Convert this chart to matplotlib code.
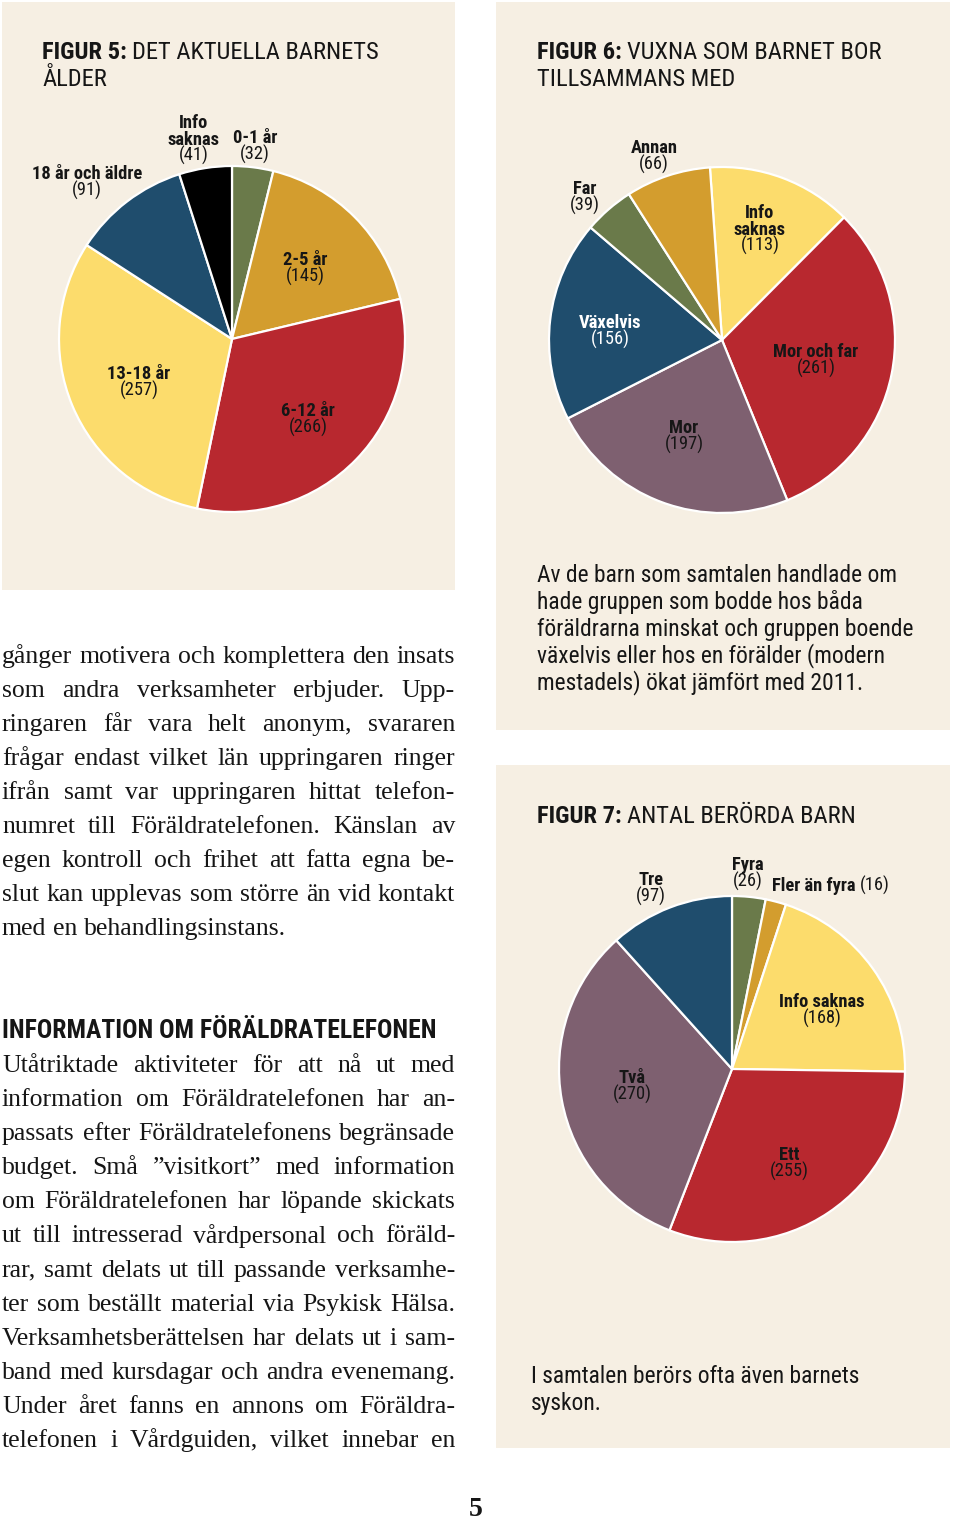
import matplotlib
matplotlib.use('Agg')
import matplotlib.pyplot as plt
import matplotlib.font_manager as fm
from matplotlib.patches import Rectangle

W, H = 960, 1520

# ---- data ----
fig5_labels = ['0-1 år', '2-5 år', '6-12 år', '13-18 år', '18 år och äldre', 'Info saknas']
fig5_values = [32, 145, 266, 257, 91, 41]
fig6_labels = ['Info saknas', 'Mor och far', 'Mor', 'Växelvis', 'Far', 'Annan']
fig6_values = [113, 261, 197, 156, 39, 66]
fig7_labels = ['Fyra', 'Fler än fyra', 'Info saknas', 'Ett', 'Två', 'Tre']
fig7_values = [26, 16, 168, 255, 270, 97]

# ---- colours ----
BG = '#f6efe3'
INK = '#161616'
GREEN, GOLD, RED, YELLOW = '#6a7a4a', '#d39d2e', '#b8282f', '#fcdc6c'
BLUE, BLACK, MAUVE = '#1f4d6d', '#000000', '#7e6070'
fig5_colors = [GREEN, GOLD, RED, YELLOW, BLUE, BLACK]
fig6_colors = [YELLOW, RED, MAUVE, BLUE, GREEN, GOLD]
fig7_colors = [GREEN, GOLD, YELLOW, RED, MAUVE, BLUE]

# ---- fonts ----
entries = fm.fontManager.ttflist
avail = {f.name for f in entries}
cond = {f.name for f in entries if 'condensed' in str(f.stretch)}
if 'Liberation Sans Narrow' in avail:
    SANS, STRETCH = 'Liberation Sans Narrow', 'normal'
elif 'Roboto Condensed' in avail:
    SANS, STRETCH = 'Roboto Condensed', 'normal'
elif 'Noto Sans' in cond:
    SANS, STRETCH = 'Noto Sans', 'condensed'
elif 'DejaVu Sans' in cond:
    SANS, STRETCH = 'DejaVu Sans', 'condensed'
else:
    SANS, STRETCH = 'Roboto', 'normal'
SERIF = 'Liberation Serif' if 'Liberation Serif' in avail else 'DejaVu Serif'
SF = dict(family=SANS, stretch=STRETCH)

fig = plt.figure(figsize=(W / 100, H / 100), dpi=100)
fig.patch.set_facecolor('white')

bg = fig.add_axes([0, 0, 1, 1])
bg.set_xlim(0, W)
bg.set_ylim(H, 0)
bg.axis('off')
for x0, y0, x1, y1 in [(2, 2, 455, 590), (496, 2, 950, 730), (496, 765, 950, 1448)]:
    bg.add_patch(Rectangle((x0, y0), x1 - x0, y1 - y0, facecolor=BG, edgecolor='none'))


def pie_axes(cx, cy, r, values, colors, start):
    pad = 6
    ax = fig.add_axes([(cx - r - pad) / W, 1 - (cy + r + pad) / H,
                       2 * (r + pad) / W, 2 * (r + pad) / H])
    ax.pie(values, colors=colors, startangle=start, counterclock=False, radius=1,
           wedgeprops=dict(edgecolor='white', linewidth=1.6))
    lim = (r + pad) / r
    ax.set_xlim(-lim, lim)
    ax.set_ylim(-lim, lim)
    ax.set_aspect('equal')
    ax.axis('off')
    return ax


pie_axes(232, 339, 173, fig5_values, fig5_colors, 90)
pie_axes(722, 340, 173, fig6_values, fig6_colors, 94)
pie_axes(732, 1069, 173, fig7_values, fig7_colors, 90)

# overlay for all text, pixel coordinates
ov = fig.add_axes([0, 0, 1, 1])
ov.set_xlim(0, W)
ov.set_ylim(H, 0)
ov.axis('off')
ov.patch.set_alpha(0)
rend = fig.canvas.get_renderer()


def tw(s, **kw):
    t = ov.text(0, 0, s, **kw)
    w = t.get_window_extent(renderer=rend).width
    t.remove()
    return w


def space_w(size, **kw):
    return tw('a a', size=size, **kw) - tw('aa', size=size, **kw)


def runs_width(parts, size):
    sp = space_w(size, **SF)
    return sum(tw(t, size=size, weight=wt, **SF) for t, wt in parts) + sp * (len(parts) - 1)


def runs(x, y, parts, size, ha='left', va='baseline', color=INK):
    sp = space_w(size, **SF)
    widths = [tw(t, size=size, weight=wt, **SF) for t, wt in parts]
    total = sum(widths) + sp * (len(parts) - 1)
    if ha == 'center':
        x -= total / 2
    for (t, wt), w in zip(parts, widths):
        ov.text(x, y, t, size=size, weight=wt, ha='left', va=va, color=color, **SF)
        x += w + sp


# ---- titles ----
title_size = 16 * 338 / runs_width([('FIGUR 5:', 'bold'), ('DET AKTUELLA BARNETS', 'normal')], 16)
runs(42, 59, [('FIGUR 5:', 'bold'), ('DET AKTUELLA BARNETS', 'normal')], title_size)
runs(42, 86, [('ÅLDER', 'normal')], title_size)
runs(537, 59, [('FIGUR 6:', 'bold'), ('VUXNA SOM BARNET BOR', 'normal')], title_size)
runs(537, 86, [('TILLSAMMANS MED', 'normal')], title_size)
runs(537, 823, [('FIGUR 7:', 'bold'), ('ANTAL BERÖRDA BARN', 'normal')], title_size)

# ---- pie labels ----
lab_size = 13.3
LSTEP = 16.6
BASE_OFF = 6


def pie_label(x, y, name, value, wrap=False, color=INK):
    lines = name.split(' ') if wrap else [name]
    for i, ln in enumerate(lines):
        ov.text(x, y + BASE_OFF + i * LSTEP, ln, size=lab_size, weight='bold', ha='center',
                va='baseline', color=color, **SF)
    ov.text(x, y + BASE_OFF + len(lines) * LSTEP, '(%d)' % value, size=lab_size,
            ha='center', va='baseline', color=color, **SF)


fig5_pos = [(255, 137), (305, 259), (308, 410), (139, 373), (87, 173), (194, 122)]
for lab, val, (x, y) in zip(fig5_labels, fig5_values, fig5_pos):
    pie_label(x, y, lab, val, wrap=(lab == 'Info saknas'))

fig6_pos = [(760, 212), (816, 351), (684, 427), (610, 322), (585, 188), (654, 147)]
for lab, val, (x, y) in zip(fig6_labels, fig6_values, fig6_pos):
    pie_label(x, y, lab, val, wrap=(lab == 'Info saknas'),
              color='white' if lab == 'Växelvis' else INK)

fig7_pos = [(748, 864), None, (822, 1001), (789, 1154), (632, 1077), (651, 879)]
for lab, val, pos in zip(fig7_labels, fig7_values, fig7_pos):
    if pos is None:
        runs(772, 885 + BASE_OFF, [(lab, 'bold'), ('(%d)' % val, 'normal')], lab_size)
    else:
        pie_label(pos[0], pos[1], lab, val)

# ---- panel texts ----
note6 = ['Av de barn som samtalen handlade om',
         'hade gruppen som bodde hos båda',
         'föräldrarna minskat och gruppen boende',
         'växelvis eller hos en förälder (modern',
         'mestadels) ökat jämfört med 2011.']
note_size = 16 * 377 / tw(note6[2], size=16, **SF)
for i, ln in enumerate(note6):
    ov.text(537, 582 + i * 26.8, ln, size=note_size, ha='left', va='baseline', color=INK, **SF)

note7 = ['I samtalen berörs ofta även barnets', 'syskon.']
for i, ln in enumerate(note7):
    ov.text(531, 1383 + i * 27, ln, size=note_size, ha='left', va='baseline', color=INK, **SF)

# ---- body text (justified serif) ----
para1 = ['gånger motivera och komplettera den insats',
         'som andra verksamheter erbjuder. Upp-',
         'ringaren får vara helt anonym, svararen',
         'frågar endast vilket län uppringaren ringer',
         'ifrån samt var uppringaren hittat telefon-',
         'numret till Föräldratelefonen. Känslan av',
         'egen kontroll och frihet att fatta egna be-',
         'slut kan upplevas som större än vid kontakt',
         'med en behandlingsinstans.']
para2 = ['Utåtriktade aktiviteter för att nå ut med',
         'information om Föräldratelefonen har an-',
         'passats efter Föräldratelefonens begränsade',
         'budget. Små \u201dvisitkort\u201d med information',
         'om Föräldratelefonen har löpande skickats',
         'ut till intresserad vårdpersonal och föräld-',
         'rar, samt delats ut till passande verksamhe-',
         'ter som beställt material via Psykisk Hälsa.',
         'Verksamhetsberättelsen har delats ut i sam-',
         'band med kursdagar och andra evenemang.',
         'Under året fanns en annons om Föräldra-',
         'telefonen i Vårdguiden, vilket innebar en']

X0, X1 = 2, 455
base = 17
maxw = max(tw(ln, size=base, family=SERIF) for ln in para1 + para2)
body_size = min(18.5, base * 449 / maxw)
sp_body = space_w(body_size, family=SERIF)


def justify(lines, y0, step, last_free):
    for i, ln in enumerate(lines):
        words = ln.split()
        ws = [tw(w, size=body_size, family=SERIF) for w in words]
        if (last_free and i == len(lines) - 1) or len(words) < 2:
            gap = sp_body
        else:
            gap = (X1 - X0 - sum(ws)) / (len(words) - 1)
        x = X0
        for w, wd in zip(words, ws):
            ov.text(x, y0 + i * step, w, size=body_size, family=SERIF, ha='left',
                    va='baseline', color=INK)
            x += wd + gap


justify(para1, 663, 34, True)
justify(para2, 1072, 34.1, False)

head = 'INFORMATION OM FÖRÄLDRATELEFONEN'
head_size = 16 * 435 / tw(head, size=16, weight='bold', **SF)
ov.text(2, 1038, head, size=head_size, weight='bold', ha='left', va='baseline', color=INK, **SF)

ov.text(476, 1516, '5', size=20, weight='bold', family=SERIF, ha='center', va='baseline', color=INK)

fig.savefig('out.png', dpi=100, facecolor='white')
